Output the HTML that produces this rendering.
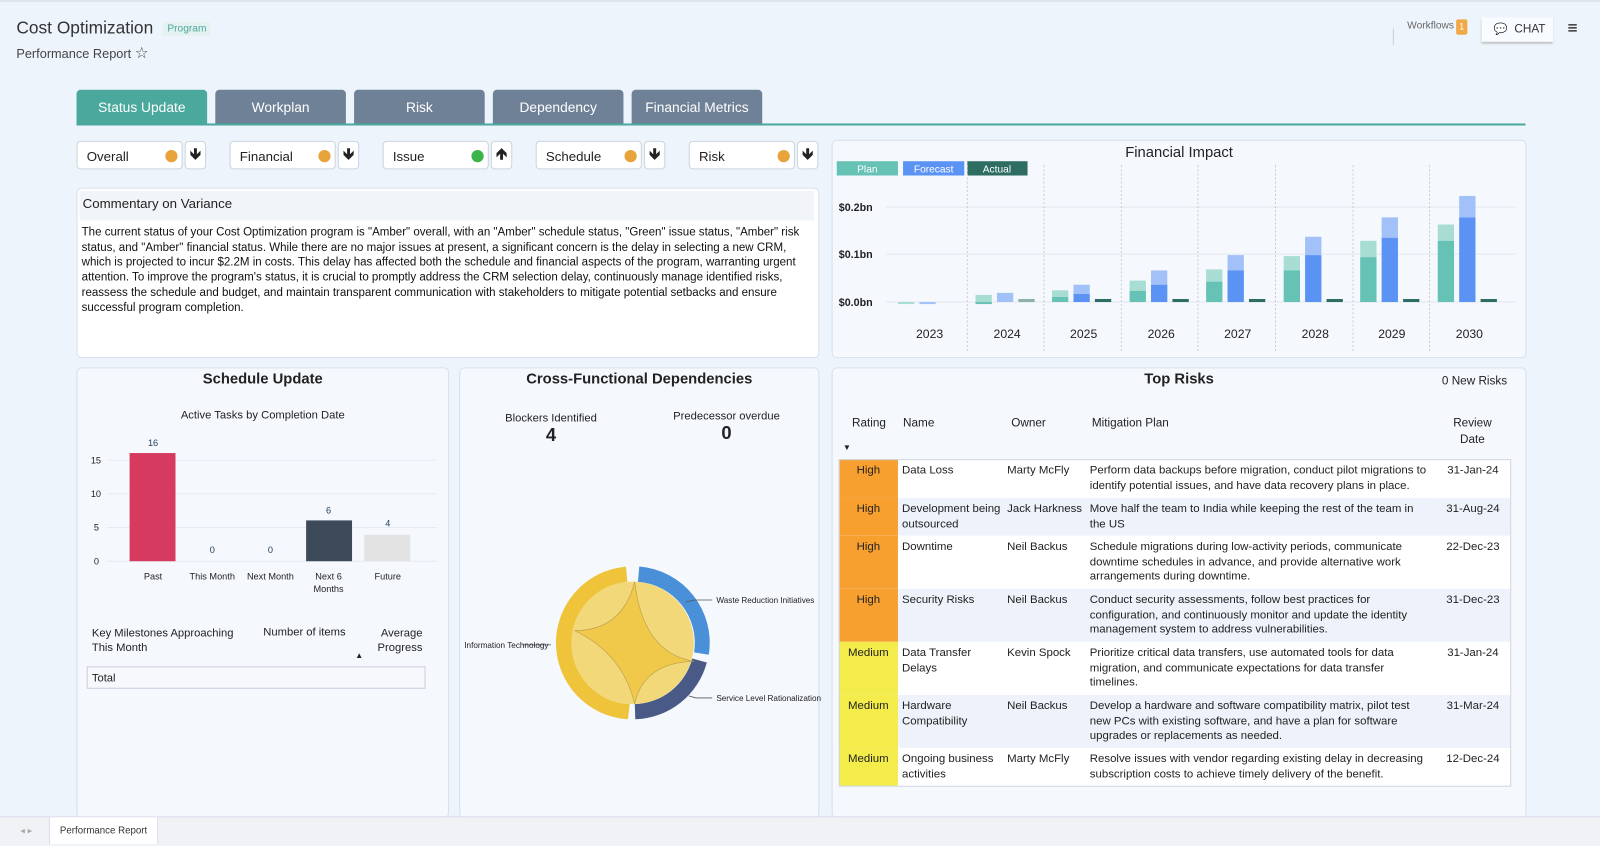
<!DOCTYPE html>
<html><head><meta charset="utf-8">
<style>
html,body{margin:0;padding:0;width:1600px;height:844px;overflow:hidden;background:#eef4fc;}
#w{position:absolute;left:0;top:0;width:1568px;height:827px;transform:scale(1.0204);transform-origin:0 0;font-family:"Liberation Sans",sans-serif;color:#222;}
.a{position:absolute;}
.panel{position:absolute;background:#f5f9fe;border:1px solid #d8e0ea;border-radius:5px;}
.tab{position:absolute;top:88px;height:34px;width:128px;background:#6e8196;color:#fff;font-size:13.5px;text-align:center;line-height:35px;border-radius:4px 4px 0 0;}
.pill{position:absolute;top:138px;height:28px;width:104px;background:#fff;border:1px solid #ccd4de;border-radius:4px;font-size:13px;line-height:30px;padding-left:9px;box-sizing:border-box;}
.pill i{position:absolute;right:4px;top:8px;width:12px;height:12px;border-radius:50%;}
.arr{position:absolute;top:138px;height:28px;width:21px;background:#fff;border:1px solid #ccd4de;border-radius:4px;box-sizing:border-box;font-size:15px;text-align:center;line-height:26px;font-weight:bold;}
.tt{font-weight:bold;font-size:14.5px;text-align:center;}
table{border-collapse:collapse;}
</style></head><body><div id="w">
<div class="a" style="left:0;top:0;width:1568px;height:2px;background:#dfe5ee"></div>
<div class="a" style="left:16px;top:18px;font-size:17px;color:#333">Cost Optimization</div>
<div class="a" style="left:160px;top:22px;font-size:10px;color:#4aa89c;background:#e4f1ef;padding:1px 4px">Program</div>
<div class="a" style="left:16px;top:43px;font-size:12.5px;color:#444">Performance Report <span style="font-size:15px">☆</span></div>
<div class="a" style="left:1365px;top:28px;width:1px;height:16px;background:#ccd"></div>
<div class="a" style="left:1379px;top:20px;font-size:10px;color:#666">Workflows</div>
<div class="a" style="left:1427px;top:19px;width:11px;height:15px;background:#f0a946;color:#fff;font-size:9px;text-align:center;line-height:15px;border-radius:2px">1</div>
<div class="a" style="left:1452px;top:17px;width:70px;height:24px;background:#f8fbff;box-shadow:0 2px 2px #bbb;font-size:11.5px;line-height:24px;color:#333"><span style="margin-left:12px;font-size:11px">💬</span>&nbsp; CHAT</div>
<div class="a" style="left:1536px;top:18px;font-size:17px;color:#111">≡</div>

<div class="tab" style="left:75px;background:#4aa89c">Status Update</div>
<div class="tab" style="left:211px">Workplan</div>
<div class="tab" style="left:347px">Risk</div>
<div class="tab" style="left:483px">Dependency</div>
<div class="tab" style="left:619px">Financial Metrics</div>
<div class="a" style="left:75px;top:121px;width:1420px;height:2px;background:#4aa89c"></div>

<div class="pill" style="left:75px">Overall<i style="background:#e8a33d"></i></div><div class="arr" style="left:181px">🡻</div>
<div class="pill" style="left:225px">Financial<i style="background:#e8a33d"></i></div><div class="arr" style="left:331px">🡻</div>
<div class="pill" style="left:375px">Issue<i style="background:#3bb54a"></i></div><div class="arr" style="left:481px">🡹</div>
<div class="pill" style="left:525px">Schedule<i style="background:#e8a33d"></i></div><div class="arr" style="left:631px">🡻</div>
<div class="pill" style="left:675px">Risk<i style="background:#e8a33d"></i></div><div class="arr" style="left:781px">🡻</div>

<div class="panel" style="left:75px;top:184px;width:726px;height:165px;background:#fff">
<div class="a" style="left:2px;top:2px;width:717px;height:29px;background:#f1f4f8;font-size:13px;line-height:26px;padding-left:3px">Commentary on Variance</div>
<div class="a" style="left:4px;top:36px;width:720px;font-size:11.3px;line-height:14.7px;color:#111;white-space:nowrap">The current status of your Cost Optimization program is "Amber" overall, with an "Amber" schedule status, "Green" issue status, "Amber" risk<br>status, and "Amber" financial status. While there are no major issues at present, a significant concern is the delay in selecting a new CRM,<br>which is projected to incur $2.2M in costs. This delay has affected both the schedule and financial aspects of the program, warranting urgent<br>attention. To improve the program's status, it is crucial to promptly address the CRM selection delay, continuously manage identified risks,<br>reassess the schedule and budget, and maintain transparent communication with stakeholders to mitigate potential setbacks and ensure<br>successful program completion.</div>
</div>
<div class="panel" style="left:815px;top:137px;width:679px;height:212px"></div>
<div class="panel" style="left:75px;top:360px;width:363px;height:440px"></div>
<div class="panel" style="left:450px;top:360px;width:351px;height:440px"></div>
<div class="panel" style="left:815px;top:360px;width:679px;height:440px"></div>

<div class="a tt" style="left:815px;top:142px;width:681px;font-weight:normal;font-size:14.5px">Financial Impact</div>
<div class="a tt" style="left:75px;top:364px;width:365px">Schedule Update</div>
<div class="a" style="left:75px;top:401px;width:365px;text-align:center;font-size:11px">Active Tasks by Completion Date</div>
<div class="a tt" style="left:450px;top:364px;width:353px">Cross-Functional Dependencies</div>
<div class="a" style="left:470px;top:404px;width:140px;text-align:center;font-size:11px">Blockers Identified<br><b style="font-size:18px">4</b></div>
<div class="a" style="left:642px;top:402px;width:140px;text-align:center;font-size:11px">Predecessor overdue<br><b style="font-size:18px">0</b></div>
<div class="a tt" style="left:815px;top:364px;width:681px">Top Risks</div>
<div class="a" style="left:1400px;top:368px;width:77px;text-align:right;font-size:11.5px">0 New Risks</div>

<div class="a" style="left:90px;top:614px;font-size:11px;line-height:14px">Key Milestones Approaching<br>This Month</div>
<div class="a" style="left:258px;top:614px;font-size:11px">Number of items</div>
<div class="a" style="left:354px;top:614px;width:60px;text-align:right;font-size:11px;line-height:14px">Average<br>Progress</div>
<div class="a" style="left:348px;top:638px;font-size:8px">▲</div>
<div class="a" style="left:85px;top:653px;width:332px;height:22px;border:1px solid #ccd;background:#f6f8fb;font-size:11px;line-height:23px;padding-left:4px;box-sizing:border-box">Total</div>

<div class="a" style="left:835px;top:409px;font-size:11.5px">Rating</div>
<div class="a" style="left:885px;top:409px;font-size:11.5px">Name</div>
<div class="a" style="left:991px;top:409px;font-size:11.5px">Owner</div>
<div class="a" style="left:1070px;top:409px;font-size:11.5px">Mitigation Plan</div>
<div class="a" style="left:1413px;top:407px;width:60px;text-align:center;font-size:11.5px;line-height:16px">Review<br>Date</div>
<div class="a" style="left:826px;top:434px;font-size:8px">▼</div>
<table class="a" style="left:822px;top:450px;width:658px;font-size:11.2px;line-height:14.5px">
<colgroup><col style="width:58px"><col style="width:106px"><col style="width:78px"><col style="width:343px"><col></colgroup>
<tr style="height:38px;background:#fff"><td style="background:#f7a030;text-align:center;vertical-align:top;padding-top:4px">High</td><td style="vertical-align:top;padding:4px 4px">Data Loss</td><td style="vertical-align:top;padding-top:4px">Marty McFly</td><td style="vertical-align:top;padding:4px 4px">Perform data backups before migration, conduct pilot migrations to identify potential issues, and have data recovery plans in place.</td><td style="vertical-align:top;padding-top:4px;text-align:center">31-Jan-24</td></tr>
<tr style="height:37px;background:#eef3fb"><td style="background:#f7a030;text-align:center;vertical-align:top;padding-top:4px">High</td><td style="vertical-align:top;padding:4px 4px">Development being outsourced</td><td style="vertical-align:top;padding-top:4px">Jack Harkness</td><td style="vertical-align:top;padding:4px 4px">Move half the team to India while keeping the rest of the team in the US</td><td style="vertical-align:top;padding-top:4px;text-align:center">31-Aug-24</td></tr>
<tr style="height:52px;background:#fff"><td style="background:#f7a030;text-align:center;vertical-align:top;padding-top:4px">High</td><td style="vertical-align:top;padding:4px 4px">Downtime</td><td style="vertical-align:top;padding-top:4px">Neil Backus</td><td style="vertical-align:top;padding:4px 4px">Schedule migrations during low-activity periods, communicate downtime schedules in advance, and provide alternative work arrangements during downtime.</td><td style="vertical-align:top;padding-top:4px;text-align:center">22-Dec-23</td></tr>
<tr style="height:52px;background:#eef3fb"><td style="background:#f7a030;text-align:center;vertical-align:top;padding-top:4px">High</td><td style="vertical-align:top;padding:4px 4px">Security Risks</td><td style="vertical-align:top;padding-top:4px">Neil Backus</td><td style="vertical-align:top;padding:4px 4px">Conduct security assessments, follow best practices for configuration, and continuously monitor and update the identity management system to address vulnerabilities.</td><td style="vertical-align:top;padding-top:4px;text-align:center">31-Dec-23</td></tr>
<tr style="height:52px;background:#fff"><td style="background:#f4ec4a;text-align:center;vertical-align:top;padding-top:4px">Medium</td><td style="vertical-align:top;padding:4px 4px">Data Transfer Delays</td><td style="vertical-align:top;padding-top:4px">Kevin Spock</td><td style="vertical-align:top;padding:4px 4px">Prioritize critical data transfers, use automated tools for data migration, and communicate expectations for data transfer timelines.</td><td style="vertical-align:top;padding-top:4px;text-align:center">31-Jan-24</td></tr>
<tr style="height:52px;background:#eef3fb"><td style="background:#f4ec4a;text-align:center;vertical-align:top;padding-top:4px">Medium</td><td style="vertical-align:top;padding:4px 4px">Hardware Compatibility</td><td style="vertical-align:top;padding-top:4px">Neil Backus</td><td style="vertical-align:top;padding:4px 4px">Develop a hardware and software compatibility matrix, pilot test new PCs with existing software, and have a plan for software upgrades or replacements as needed.</td><td style="vertical-align:top;padding-top:4px;text-align:center">31-Mar-24</td></tr>
<tr style="height:37px;background:#fff"><td style="background:#f4ec4a;text-align:center;vertical-align:top;padding-top:4px">Medium</td><td style="vertical-align:top;padding:4px 4px">Ongoing business activities</td><td style="vertical-align:top;padding-top:4px">Marty McFly</td><td style="vertical-align:top;padding:4px 4px">Resolve issues with vendor regarding existing delay in decreasing subscription costs to achieve timely delivery of the benefit.</td><td style="vertical-align:top;padding-top:4px;text-align:center">12-Dec-24</td></tr>
</table>
<div class="a" style="left:822px;top:450px;width:657px;height:319px;border:1px solid #cfd6e0;pointer-events:none"></div>

<div class="a" style="left:0;top:800px;width:1568px;height:27px;background:#f0f2f5;border-top:1px solid #dde"></div>
<div class="a" style="left:20px;top:809px;font-size:9px;color:#aaa">◂ ▸</div>
<div class="a" style="left:48px;top:801px;width:105px;height:26px;background:#fff;border-left:1px solid #dde;border-right:1px solid #dde;font-size:9.5px;line-height:28px;text-align:center;color:#333">Performance Report</div>

<svg class="a" style="left:0;top:0" width="1568" height="827" font-family="Liberation Sans, sans-serif">
<g>
<rect x="820" y="158" width="60" height="14" fill="#66c2b4"/><text x="850" y="169" font-size="10" fill="#fff" text-anchor="middle">Plan</text>
<rect x="885" y="158" width="60" height="14" fill="#5b93f5"/><text x="915" y="169" font-size="10" fill="#fff" text-anchor="middle">Forecast</text>
<rect x="948" y="158" width="59" height="14" fill="#2e6e62"/><text x="977" y="169" font-size="10" fill="#fff" text-anchor="middle">Actual</text>
<g stroke="#e3e8ef"><line x1="868" x2="1485" y1="203" y2="203"/><line x1="868" x2="1485" y1="249" y2="249"/><line x1="868" x2="1485" y1="296" y2="296"/></g>
<g font-size="10.5" font-weight="bold" fill="#222"><text x="822" y="207">$0.2bn</text><text x="822" y="253">$0.1bn</text><text x="822" y="300">$0.0bn</text></g>
<g stroke="#ccc" stroke-dasharray="2,2"><line x1="948" x2="948" y1="162" y2="345"/><line x1="1023" x2="1023" y1="162" y2="345"/><line x1="1099" x2="1099" y1="162" y2="345"/><line x1="1174" x2="1174" y1="162" y2="345"/><line x1="1250" x2="1250" y1="162" y2="345"/><line x1="1326" x2="1326" y1="162" y2="345"/><line x1="1401" x2="1401" y1="162" y2="345"/></g>
<g font-size="12" fill="#222" text-anchor="middle"><text x="911" y="331">2023</text><text x="987" y="331">2024</text><text x="1062" y="331">2025</text><text x="1138" y="331">2026</text><text x="1213" y="331">2027</text><text x="1289" y="331">2028</text><text x="1364" y="331">2029</text><text x="1440" y="331">2030</text></g>
<rect x="880" y="296" width="16" height="2" fill="#a8ddd4"/><rect x="901" y="296" width="16" height="2" fill="#a3c1f9"/>
<rect x="956" y="289" width="16" height="7" fill="#a8ddd4"/><rect x="956" y="296" width="16" height="2" fill="#66c2b4"/><rect x="977" y="287" width="16" height="9" fill="#a3c1f9"/><rect x="998" y="293" width="16" height="3" fill="#8fb0a8"/>
<rect x="1031" y="284.5" width="16" height="6.5" fill="#a8ddd4"/><rect x="1031" y="291" width="16" height="5" fill="#66c2b4"/><rect x="1052" y="279" width="16" height="9" fill="#a3c1f9"/><rect x="1052" y="288" width="16" height="8" fill="#5b93f5"/><rect x="1073" y="293" width="16" height="3" fill="#2e6e62"/>
<rect x="1107" y="275" width="16" height="10" fill="#a8ddd4"/><rect x="1107" y="285" width="16" height="11" fill="#66c2b4"/><rect x="1128" y="265" width="16" height="14" fill="#a3c1f9"/><rect x="1128" y="279" width="16" height="17" fill="#5b93f5"/><rect x="1149" y="293" width="16" height="3" fill="#2e6e62"/>
<rect x="1182" y="264" width="16" height="12" fill="#a8ddd4"/><rect x="1182" y="276" width="16" height="20" fill="#66c2b4"/><rect x="1203" y="250" width="16" height="15" fill="#a3c1f9"/><rect x="1203" y="265" width="16" height="31" fill="#5b93f5"/><rect x="1224" y="293" width="16" height="3" fill="#2e6e62"/>
<rect x="1258" y="251" width="16" height="14" fill="#a8ddd4"/><rect x="1258" y="265" width="16" height="31" fill="#66c2b4"/><rect x="1279" y="232" width="16" height="18" fill="#a3c1f9"/><rect x="1279" y="250" width="16" height="46" fill="#5b93f5"/><rect x="1300" y="293" width="16" height="3" fill="#2e6e62"/>
<rect x="1333" y="236" width="16" height="16" fill="#a8ddd4"/><rect x="1333" y="252" width="16" height="44" fill="#66c2b4"/><rect x="1354" y="213" width="16" height="20" fill="#a3c1f9"/><rect x="1354" y="233" width="16" height="63" fill="#5b93f5"/><rect x="1375" y="293" width="16" height="3" fill="#2e6e62"/>
<rect x="1409" y="220" width="16" height="16" fill="#a8ddd4"/><rect x="1409" y="236" width="16" height="60" fill="#66c2b4"/><rect x="1430" y="192" width="16" height="21" fill="#a3c1f9"/><rect x="1430" y="213" width="16" height="83" fill="#5b93f5"/><rect x="1451" y="293" width="16" height="3" fill="#2e6e62"/>
</g>
<g>
<g stroke="#e6eaf0"><line x1="105" x2="428" y1="451" y2="451"/><line x1="105" x2="428" y1="484" y2="484"/><line x1="105" x2="428" y1="517" y2="517"/><line x1="105" x2="428" y1="550" y2="550"/></g>
<g font-size="9" fill="#222"><text x="89" y="454">15</text><text x="89" y="487">10</text><text x="92" y="520">5</text><text x="92" y="553">0</text></g>
<rect x="127" y="444" width="45" height="106" fill="#d63a5e"/>
<rect x="300" y="510" width="45" height="40" fill="#3d4a5a"/>
<rect x="357" y="524" width="45" height="26" fill="#e3e3e3"/>
<g font-size="9" fill="#1f3a5a" text-anchor="middle"><text x="150" y="437">16</text><text x="208" y="542">0</text><text x="265" y="542">0</text><text x="322" y="503">6</text><text x="380" y="516">4</text></g>
<g font-size="9" fill="#222" text-anchor="middle"><text x="150" y="568">Past</text><text x="208" y="568">This Month</text><text x="265" y="568">Next Month</text><text x="322" y="568">Next 6</text><text x="322" y="580">Months</text><text x="380" y="568">Future</text></g>
</g>
<g>
<path d="M626.5,555.2 A75,75 0 0 1 694.6,641.7 L680.2,639.3 A60,60 0 0 0 625.2,570.2 Z" fill="#4a90d9"/>
<path d="M692.7,649.3 A75,75 0 0 1 622.6,704.9 L622.1,690.0 A60,60 0 0 0 678.4,645.3 Z" fill="#4a5a86"/>
<path d="M615.4,704.9 A75,75 0 0 1 613.5,555.3 L614.8,570.3 A60,60 0 0 0 617.1,690.0 Z" fill="#f0c43a"/>
<circle cx="620" cy="630" r="60" fill="#f2d878"/>
<path d="M622,570 Q630,640 680,648 Q630,650 622,690 Q610,640 563,618 Q610,618 622,570 Z" fill="#f0c84a" stroke="#b8a050" stroke-width="0.6"/>
<g stroke="#555" stroke-width="0.8" fill="none"><polyline points="672,590 680,588 698,588"/><line x1="512" y1="632" x2="540" y2="632"/><polyline points="675,682 682,684 698,684"/></g>
<g font-size="8" fill="#222"><text x="702" y="591">Waste Reduction Initiatives</text><text x="455" y="635">Information Technology</text><text x="702" y="687">Service Level Rationalization</text></g>
</g>
</svg>
</div></body></html>
